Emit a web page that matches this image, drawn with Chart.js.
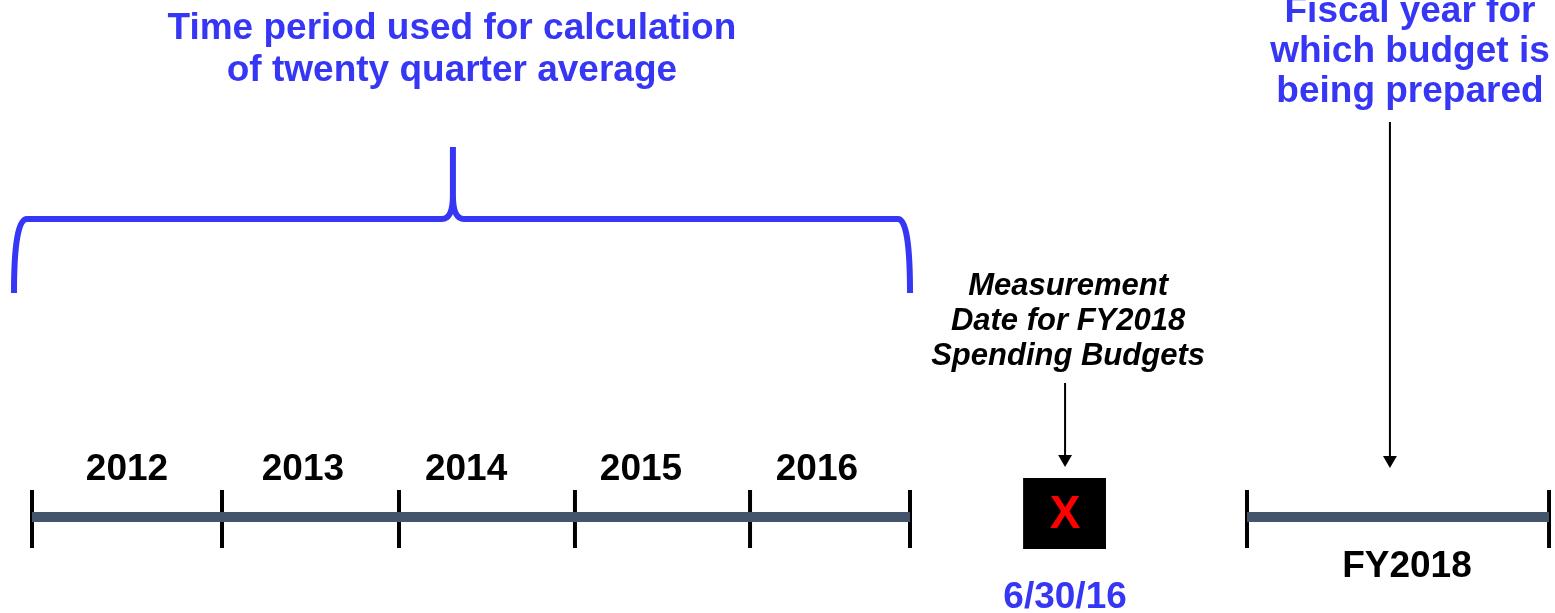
<!DOCTYPE html>
<html>
<head>
<meta charset="utf-8">
<script src="https://cdn.jsdelivr.net/npm/chart.js@4.4.0/dist/chart.umd.min.js"></script>
<style>
  body { margin: 0; background: #fff; }
  canvas { display: block; }
</style>
</head>
<body>
<canvas id="timeline" width="1555" height="613"></canvas>
<script>
// timeline data (x in "year slots")
const yearLabels = ['2012', '2013', '2014', '2015', '2016'];
const yearBounds = [0, 1.082, 2.090, 3.092, 4.089, 5.0];
const yearLabelPos = [0.541, 1.543, 2.472, 3.468, 4.470];
const measureDate = '6/30/16';
const measurePos = 5.883;
const fyLabel = 'FY2018';
const fyBounds = [6.919, 8.639];
const fyLabelPos = 7.83;
const fyArrowPos = 7.733;
const braceEnds = [-0.1025, 2.397, 5.0];

const titleLines = ['Time period used for calculation', 'of twenty quarter average'];
const fiscalLines = ['Fiscal year for', 'which budget is', 'being prepared'];
const measureLines = ['Measurement', 'Date for FY2018', 'Spending Budgets'];

const BLUE = '#3636f5';
const SLATE = '#44546a';
const FONT = "'Liberation Sans', Arial, sans-serif";

// rows (vertical placement, top = 0)
const rowLine = 517, rowTick = 519;

const px = (chart, v) => chart.scales.x.getPixelForValue(v);
const py = (chart, v) => chart.scales.y.getPixelForValue(v);

const bracePlugin = {
    id: 'brace',
    afterDatasetsDraw(chart) {
        const ctx = chart.ctx;
        const xl = px(chart, braceEnds[0]), xc = px(chart, braceEnds[1]), xr = px(chart, braceEnds[2]);
        const yEnd = py(chart, 293), yBar = py(chart, 219), yTop = py(chart, 147), yCusp = py(chart, 195);
        ctx.save();
        ctx.strokeStyle = BLUE;
        ctx.lineWidth = 6;
        ctx.lineJoin = 'round';
        ctx.beginPath();
        ctx.moveTo(xl, yEnd);
        ctx.quadraticCurveTo(xl, yBar, xl + 13, yBar);
        ctx.lineTo(xc - 11, yBar);
        ctx.bezierCurveTo(xc - 3, yBar, xc, yBar - 8, xc, yCusp);
        ctx.lineTo(xc, yTop);
        ctx.moveTo(xc, yCusp);
        ctx.bezierCurveTo(xc, yBar - 8, xc + 3, yBar, xc + 11, yBar);
        ctx.lineTo(xr - 12, yBar);
        ctx.quadraticCurveTo(xr, yBar, xr, yEnd);
        ctx.stroke();
        ctx.restore();
    }
};

function drawLines(ctx, lines, x, y, gap, font, color) {
    ctx.font = font;
    ctx.fillStyle = color;
    ctx.textAlign = 'center';
    ctx.textBaseline = 'middle';
    lines.forEach((t, i) => ctx.fillText(t, x, y + i * gap));
}

const textPlugin = {
    id: 'texts',
    afterDatasetsDraw(chart) {
        const ctx = chart.ctx;
        ctx.save();
        const bold = 'bold 37px ' + FONT;
        drawLines(ctx, titleLines, px(chart, braceEnds[1]) - 1, py(chart, 29), 42, bold, BLUE);
        drawLines(ctx, fiscalLines, px(chart, fyLabelPos) + 3, py(chart, 12), 40, bold, BLUE);
        drawLines(ctx, measureLines, px(chart, measurePos) + 3, py(chart, 286), 35, 'italic bold 31px ' + FONT, '#000');
        yearLabels.forEach((t, i) => drawLines(ctx, [t], px(chart, yearLabelPos[i]), py(chart, 470), 0, bold, '#000'));
        drawLines(ctx, [fyLabel], px(chart, fyLabelPos), py(chart, 567), 0, bold, '#000');
        drawLines(ctx, [measureDate], px(chart, measurePos), py(chart, 598), 0, bold, BLUE);
        drawLines(ctx, ['X'], px(chart, measurePos), py(chart, 515), 0, 'bold 46px ' + FONT, '#ff0000');
        ctx.restore();
    }
};

const lineStyle = { showLine: true, pointRadius: 0, borderCapStyle: 'butt', fill: false, clip: false };

new Chart(document.getElementById('timeline'), {
    type: 'scatter',
    data: {
        datasets: [
            // quarter-average period
            Object.assign({
                data: yearBounds.map(x => ({x: x, y: rowLine})),
                borderColor: SLATE, borderWidth: 10
            }, lineStyle),
            // budget fiscal year
            Object.assign({
                data: fyBounds.map(x => ({x: x, y: rowLine})),
                borderColor: SLATE, borderWidth: 10
            }, lineStyle),
            // measurement date box
            Object.assign({
                data: [{x: measurePos - 0.239, y: 513.5}, {x: measurePos + 0.233, y: 513.5}],
                borderColor: '#000', borderWidth: 71
            }, lineStyle),
            // tick marks
            {
                data: yearBounds.concat(fyBounds).map(x => ({x: x, y: rowTick})),
                pointStyle: 'line', rotation: 90, radius: 29, clip: false,
                borderColor: '#000', borderWidth: 4, backgroundColor: '#000'
            },
            // arrow shafts
            Object.assign({
                data: [{x: measurePos, y: 383}, {x: measurePos, y: 456}],
                borderColor: '#000', borderWidth: 2
            }, lineStyle),
            Object.assign({
                data: [{x: fyArrowPos, y: 122}, {x: fyArrowPos, y: 457}],
                borderColor: '#000', borderWidth: 2
            }, lineStyle),
            // arrow heads
            {
                data: [{x: measurePos, y: 459}, {x: fyArrowPos, y: 460}],
                pointStyle: 'triangle', rotation: 180, radius: 8, clip: false,
                borderWidth: 0, backgroundColor: '#000', borderColor: '#000'
            }
        ]
    },
    options: {
        responsive: false,
        animation: false,
        events: [],
        layout: { padding: 0, autoPadding: false },
        plugins: {
            legend: { display: false },
            tooltip: { enabled: false }
        },
        scales: {
            x: { type: 'linear', display: false, min: -0.1822, max: 8.673 },
            y: { type: 'linear', display: false, min: 0, max: 613, reverse: true }
        }
    },
    plugins: [bracePlugin, textPlugin]
});
</script>
</body>
</html>
